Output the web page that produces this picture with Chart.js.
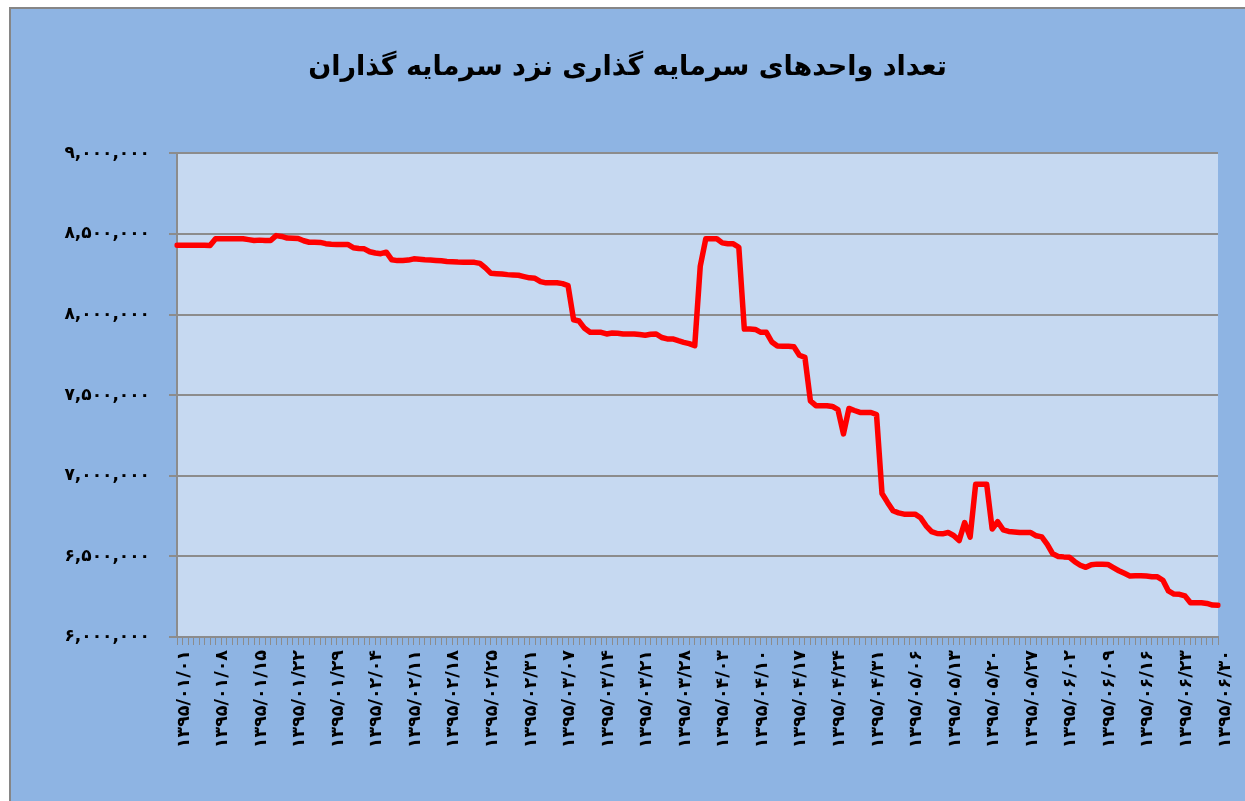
<!DOCTYPE html>
<html lang="fa">
<head>
    <meta charset="UTF-8">
    <title>تعداد واحدهای سرمایه گذاری نزد سرمایه گذاران</title>
    <style>
        html, body { margin: 0; padding: 0; background: #fff; overflow: hidden; }
        #frame { position: absolute; left: 9px; top: 7px; width: 1300px; height: 900px;
                 background: #8EB4E3; border: 2px solid #868686; }
        #box { position: absolute; left: 0; top: 0; width: 1245px; height: 801px; }
    </style>
</head>
<body>
    <div id="frame"></div>
    <div id="box"><canvas id="units"></canvas></div>

    <script src="https://cdn.jsdelivr.net/npm/chart.js"></script>
    <script>
        const chartTitle = 'تعداد واحدهای سرمایه گذاری نزد سرمایه گذاران';

        // one label every 7 days on the axis
        const tickLabels = [
            '۱۳۹۵/۰۱/۰۱', '۱۳۹۵/۰۱/۰۸', '۱۳۹۵/۰۱/۱۵', '۱۳۹۵/۰۱/۲۲', '۱۳۹۵/۰۱/۲۹', '۱۳۹۵/۰۲/۰۴', '۱۳۹۵/۰۲/۱۱',
            '۱۳۹۵/۰۲/۱۸', '۱۳۹۵/۰۲/۲۵', '۱۳۹۵/۰۲/۳۱', '۱۳۹۵/۰۳/۰۷', '۱۳۹۵/۰۳/۱۴', '۱۳۹۵/۰۳/۲۱', '۱۳۹۵/۰۳/۲۸',
            '۱۳۹۵/۰۴/۰۳', '۱۳۹۵/۰۴/۱۰', '۱۳۹۵/۰۴/۱۷', '۱۳۹۵/۰۴/۲۴', '۱۳۹۵/۰۴/۳۱', '۱۳۹۵/۰۵/۰۶', '۱۳۹۵/۰۵/۱۳',
            '۱۳۹۵/۰۵/۲۰', '۱۳۹۵/۰۵/۲۷', '۱۳۹۵/۰۶/۰۲', '۱۳۹۵/۰۶/۰۹', '۱۳۹۵/۰۶/۱۶', '۱۳۹۵/۰۶/۲۳', '۱۳۹۵/۰۶/۳۰'
        ];

        // daily values
        const units = [
            8430000, 8430000, 8430000, 8430000, 8430000, 8430000, 8428000,
            8470000, 8470000, 8470000, 8470000, 8470000, 8470000, 8465000,
            8460000, 8462000, 8460000, 8460000, 8490000, 8485000, 8475000,
            8474000, 8472000, 8458000, 8449000, 8449000, 8448000, 8440000,
            8436000, 8435000, 8435000, 8435000, 8415000, 8410000, 8408000,
            8390000, 8382000, 8378000, 8387000, 8340000, 8335000, 8335000,
            8338000, 8346000, 8343000, 8340000, 8338000, 8336000, 8334000,
            8330000, 8328000, 8326000, 8325000, 8325000, 8324000, 8318000,
            8290000, 8256000, 8254000, 8252000, 8248000, 8246000, 8244000,
            8236000, 8228000, 8225000, 8205000, 8197000, 8197000, 8197000,
            8192000, 8180000, 7968000, 7960000, 7915000, 7890000, 7890000,
            7890000, 7880000, 7886000, 7884000, 7880000, 7880000, 7880000,
            7876000, 7872000, 7878000, 7880000, 7858000, 7849000, 7849000,
            7838000, 7828000, 7820000, 7807000, 8300000, 8470000, 8470000,
            8470000, 8445000, 8439000, 8439000, 8418000, 7911000, 7911000,
            7908000, 7890000, 7890000, 7830000, 7805000, 7803000, 7803000,
            7800000, 7748000, 7735000, 7465000, 7435000, 7435000, 7435000,
            7430000, 7410000, 7260000, 7418000, 7405000, 7393000, 7393000,
            7393000, 7380000, 6890000, 6835000, 6783000, 6770000, 6762000,
            6762000, 6762000, 6740000, 6690000, 6654000, 6642000, 6640000,
            6648000, 6630000, 6598000, 6710000, 6620000, 6948000, 6948000,
            6948000, 6670000, 6715000, 6665000, 6655000, 6652000, 6648000,
            6648000, 6648000, 6628000, 6621000, 6575000, 6516000, 6500000,
            6497000, 6495000, 6467000, 6445000, 6432000, 6448000, 6452000,
            6451000, 6450000, 6430000, 6411000, 6395000, 6379000, 6380000,
            6380000, 6378000, 6374000, 6373000, 6352000, 6286000, 6266000,
            6265000, 6255000, 6212000, 6212000, 6212000, 6208000, 6198000,
            6197000
        ];

        const labels = units.map((v, i) => (i % 7 === 0 ? tickLabels[i / 7] : ''));

        const faDigits = '۰۱۲۳۴۵۶۷۸۹';
        function toFa(n) {
            return n.toLocaleString('en-US').replace(/[0-9]/g, d => faDigits[d]);
        }

        const plotBg = {
            id: 'plotBg',
            beforeDraw(chart) {
                const { ctx, chartArea: a } = chart;
                ctx.save();
                ctx.fillStyle = '#C6D9F1';
                ctx.fillRect(a.left, a.top, a.right - a.left, a.bottom - a.top);
                ctx.restore();
            }
        };

        const font = 'DejaVu Sans';

        new Chart(document.getElementById('units'), {
            type: 'line',
            data: {
                labels: labels,
                datasets: [{
                    data: units,
                    borderColor: '#FF0000',
                    borderWidth: 5.5,
                    pointRadius: 0,
                    tension: 0,
                    borderJoinStyle: 'round',
                    borderCapStyle: 'round'
                }]
            },
            options: {
                responsive: true,
                maintainAspectRatio: false,
                animation: false,
                layout: { padding: { left: 10, right: 0, top: 0, bottom: 0 } },
                plugins: {
                    legend: { display: false },
                    tooltip: { enabled: false },
                    title: {
                        display: true,
                        text: chartTitle,
                        color: '#000',
                        font: { family: font, size: 27, weight: 'bold', lineHeight: 1.2 },
                        padding: { top: 52, bottom: 69 }
                    }
                },
                scales: {
                    x: {
                        offset: false,
                        afterFit: s => { s.height = 164; },
                        grid: { drawOnChartArea: false, drawTicks: true, tickLength: 8, color: '#8C8C8C', lineWidth: 1 },
                        border: { display: true, color: '#8C8C8C', width: 2 },
                        ticks: {
                            autoSkip: false,
                            minRotation: 90,
                            maxRotation: 90,
                            padding: 5,
                            labelOffset: 7,
                            color: '#000',
                            font: { family: font, size: 17.5, weight: 'bold' }
                        }
                    },
                    y: {
                        min: 6000000,
                        max: 9000000,
                        afterFit: s => { s.width = 167; },
                        grid: { color: '#8C8C8C', lineWidth: 2, drawTicks: true, tickLength: 8 },
                        border: { display: true, color: '#8C8C8C', width: 2 },
                        ticks: {
                            stepSize: 500000,
                            padding: 19,
                            color: '#000',
                            font: { family: font, size: 17, weight: 'bold' },
                            callback: v => toFa(v)
                        }
                    },
                    // empty right-hand gutter
                    gutter: {
                        type: 'linear',
                        position: 'right',
                        afterFit: s => { s.width = 27; },
                        grid: { display: false },
                        border: { display: false },
                        ticks: { display: false }
                    }
                }
            },
            plugins: [plotBg]
        });
    </script>
</body>
</html>
